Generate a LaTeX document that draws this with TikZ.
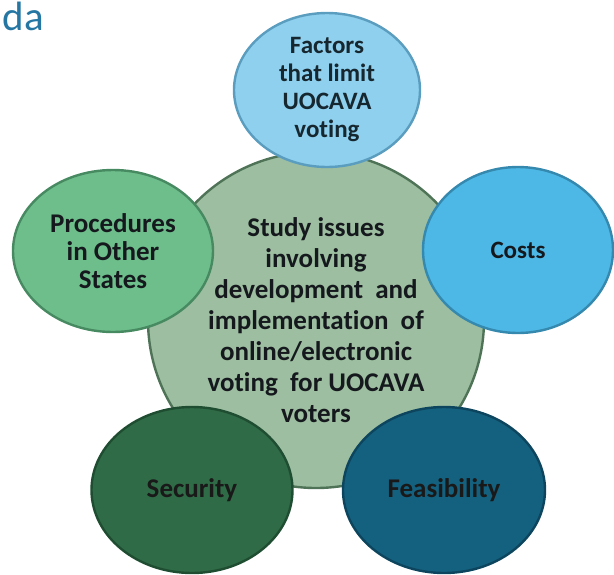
\documentclass[tikz,border=0pt]{standalone}
\usepackage{fontspec}
\setmainfont{Carlito}[Ligatures=NoCommon]
\usetikzlibrary{shapes.geometric}

\definecolor{hubfill}{HTML}{9DBEA0}
\definecolor{hubline}{HTML}{4E7356}
\definecolor{factfill}{HTML}{8ED0EE}
\definecolor{factline}{HTML}{5A9DBE}
\definecolor{costfill}{HTML}{4DB8E6}
\definecolor{costline}{HTML}{3588AE}
\definecolor{procfill}{HTML}{6DBE8B}
\definecolor{procline}{HTML}{478A62}
\definecolor{secfill}{HTML}{2F6B46}
\definecolor{secline}{HTML}{1F4D31}
\definecolor{feasfill}{HTML}{14617F}
\definecolor{feasline}{HTML}{0C455D}
\definecolor{titleblue}{HTML}{2676A3}
\definecolor{inktext}{HTML}{15191D}

\tikzset{
  topic/.style={ellipse, draw, line width=2.4pt, inner sep=0pt},
  hub/.style={circle, draw=hubline, fill=hubfill, line width=2.4pt, inner sep=0pt, minimum size=336pt},
  label text/.style={align=center, text=inktext, font=\bfseries\fontsize{25}{28}\selectfont}
}

\begin{document}
\begin{tikzpicture}[x=1pt, y=-1pt, line join=round]
\useasboundingbox (0,0) rectangle (614,574);

% slide title, cut off
\node[anchor=base west, inner sep=0pt, text=titleblue, font=\fontsize{41}{44}\selectfont] (title) at (2,30) {d\kern1pt a};

% centre
\node[hub] (hub) at (316,320) {};

% outer topics
\node[topic, draw=factline, fill=factfill, minimum width=186pt, minimum height=154pt] (factors) at (327,90) {};
\node[topic, draw=costline, fill=costfill, minimum width=190pt, minimum height=166pt] (costs) at (518,250) {};
\node[topic, draw=procline, fill=procfill, minimum width=200pt, minimum height=162pt] (procedures) at (113,251) {};
\node[topic, draw=secline, fill=secfill, minimum width=201pt, minimum height=166pt] (security) at (192,490) {};
\node[topic, draw=feasline, fill=feasfill, minimum width=202pt, minimum height=166pt] (feasibility) at (444,490) {};

% texts
\node[label text, font=\bfseries\fontsize{27}{31}\selectfont] (hub-text) at (316,320)
  {Study issues\\involving\\development\ \ and\\implementation\ \ of\\online/electronic\\voting\ \ for UOCAVA\\voters};
\node[label text, text=factline!25!black] (factors-text) at (factors) {Factors\\that limit\\UOCAVA\\voting};
\node[label text, font=\bfseries\fontsize{25}{28}\selectfont] (costs-text) at (costs) {Costs};
\node[label text, font=\bfseries\fontsize{27}{28}\selectfont] (procedures-text) at (procedures) {Procedures\\in Other\\States};
\node[label text, text=black!90, font=\bfseries\fontsize{27}{28}\selectfont] (security-text) at (security) {Security};
\node[label text, text=black!90, font=\bfseries\fontsize{27}{28}\selectfont] (feasibility-text) at (feasibility) {Feasibility};

\end{tikzpicture}
\end{document}
